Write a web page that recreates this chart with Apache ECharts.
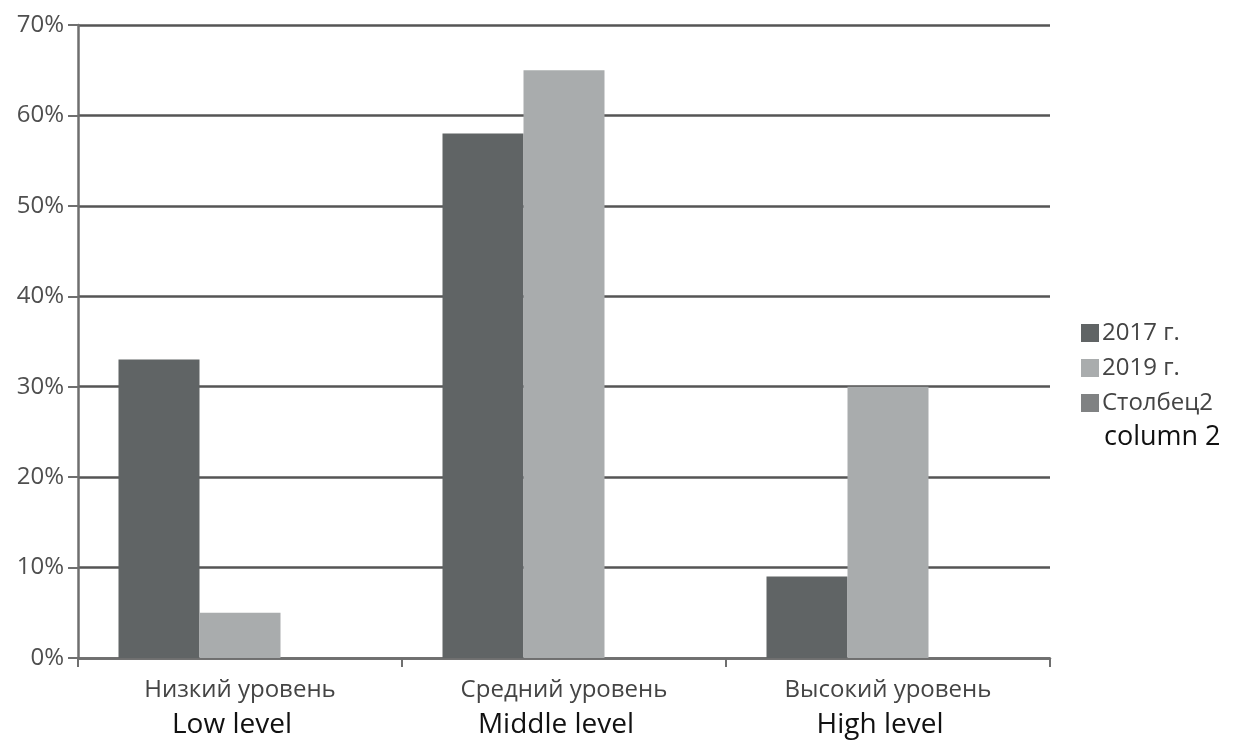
<!DOCTYPE html>
<html>
<head>
<meta charset="utf-8">
<script src="https://cdn.jsdelivr.net/npm/echarts@6/dist/echarts.min.js"></script>
<style>
  html, body { margin: 0; padding: 0; background: #fff; }
  #chart { width: 1237px; height: 744px; }
</style>
</head>
<body>
<div id="chart"></div>
<script>
// Survey levels by year, in percent
const categoriesRu = ['Низкий уровень', 'Средний уровень', 'Высокий уровень'];
const categoriesEn = ['Low level', 'Middle level', 'High level'];
const seriesNames = ['2017 г.', '2019 г.', 'Столбец2'];
const values2017 = [33, 58, 9];
const values2019 = [5, 65, 30];
const valuesColumn2 = [null, null, null];
const yTicks = [0, 10, 20, 30, 40, 50, 60, 70];

const FONT = '"Open Sans", "Noto Sans", sans-serif';
const colors = ['#606465', '#a9acad', '#808283'];

const chart = echarts.init(document.getElementById('chart'));
chart.setOption({
  animation: false,
  backgroundColor: '#ffffff',
  color: colors,
  grid: { left: 78, right: 187, top: 25, bottom: 86, containLabel: false },
  legend: {
    orient: 'vertical',
    left: 1081,
    top: 321,
    padding: 0,
    itemWidth: 18,
    itemHeight: 18,
    itemGap: 11,
    icon: 'rect',
    data: seriesNames,
    textStyle: { fontFamily: FONT, fontSize: 24, color: '#444444', padding: [0, 0, 0, -2] }
  },
  graphic: [{
    type: 'text',
    left: 1104,
    top: 424,
    style: { text: 'column 2', font: '27px ' + FONT, fill: '#111' }
  }],
  xAxis: {
    type: 'category',
    data: categoriesRu.map((ru, i) => ru + '\n' + categoriesEn[i]),
    axisLine: { show: true, lineStyle: { color: '#6f6f6f', width: 2.5 } },
    axisTick: { show: true, length: 9, lineStyle: { color: '#6f6f6f', width: 2 } },
    axisLabel: {
      margin: 16,
      formatter: function (v) {
        const parts = v.split('\n');
        return '{ru|' + parts[0] + '}\n{en|' + parts[1] + '}';
      },
      rich: {
        ru: { fontFamily: FONT, fontSize: 24, color: '#444444', lineHeight: 32 },
        en: { fontFamily: FONT, fontSize: 28, color: '#111111', lineHeight: 38, padding: [0, 16, 0, 0] }
      }
    },
    splitLine: { show: false }
  },
  yAxis: {
    type: 'value',
    min: 0,
    max: 70,
    interval: 10,
    axisLine: { show: true, lineStyle: { color: '#6f6f6f', width: 2.5 } },
    axisTick: { show: true, length: 10, lineStyle: { color: '#6f6f6f', width: 2 } },
    axisLabel: {
      margin: 14,
      fontFamily: FONT,
      fontSize: 24,
      color: '#4f4f4f',
      formatter: function (v) { return yTicks.indexOf(v) >= 0 ? v + '%' : ''; }
    },
    splitLine: { show: true, lineStyle: { color: '#555555', width: 2.5 } }
  },
  series: [
    { name: seriesNames[0], type: 'bar', data: values2017, barGap: '0%', barCategoryGap: '25%' },
    { name: seriesNames[1], type: 'bar', data: values2019, barGap: '0%', barCategoryGap: '25%' },
    { name: seriesNames[2], type: 'bar', data: valuesColumn2, barGap: '0%', barCategoryGap: '25%' }
  ]
});
</script>
</body>
</html>
